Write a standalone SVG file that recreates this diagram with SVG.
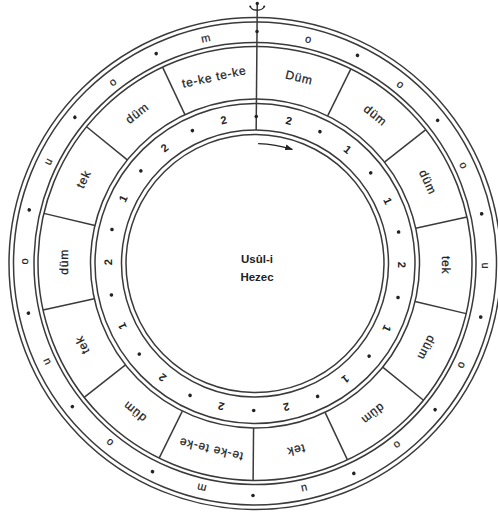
<svg xmlns="http://www.w3.org/2000/svg" width="498" height="525" viewBox="0 0 498 525">
<defs>
<style>
.ring{fill:none;stroke:#3a3a3a;stroke-width:1.5}
.div{stroke:#3a3a3a;stroke-width:1.5}
.cell{font-family:"Liberation Sans",Arial,sans-serif;font-size:12px;letter-spacing:0.8px;fill:#222;stroke:#222;stroke-width:0.25;text-anchor:middle;dominant-baseline:central}
.syl{font-family:"Liberation Sans",Arial,sans-serif;font-size:11px;fill:#222;stroke:#222;stroke-width:0.2;text-anchor:middle;dominant-baseline:central}
.num{font-family:"Liberation Sans",Arial,sans-serif;font-size:11px;font-weight:bold;fill:#222;text-anchor:middle;dominant-baseline:central}
.title{font-family:"Liberation Sans",Arial,sans-serif;font-size:11.5px;font-weight:bold;fill:#222;text-anchor:middle}
.dot{fill:#222}
</style>
<marker id="ah" markerWidth="8" markerHeight="6" refX="7" refY="3" orient="auto" markerUnits="userSpaceOnUse">
<path d="M0,0 L8,3 L0,6 Z" fill="#222"/>
</marker>
</defs>
<rect width="498" height="525" fill="#fff"/>
<g transform="translate(255 263.5) rotate(0.5)">
<g id="rings">
<circle class="ring" r="246"/>
<circle class="ring" r="241.5"/>
<circle class="ring" r="221"/>
<circle class="ring" r="217"/>
<circle class="ring" r="164.5"/>
<circle class="ring" r="160"/>
<circle class="ring" r="133.5"/>
<circle class="ring" r="129"/>
</g>
<g id="connectors">
<line class="div" x1="0" y1="-259" x2="0" y2="-133.5"/>
<g id="dividers">
<line class="div" x1="0" y1="-217" x2="0" y2="-164.5" transform="rotate(25.714)"/>
<line class="div" x1="0" y1="-217" x2="0" y2="-164.5" transform="rotate(51.429)"/>
<line class="div" x1="0" y1="-217" x2="0" y2="-164.5" transform="rotate(77.143)"/>
<line class="div" x1="0" y1="-217" x2="0" y2="-164.5" transform="rotate(102.857)"/>
<line class="div" x1="0" y1="-217" x2="0" y2="-164.5" transform="rotate(128.571)"/>
<line class="div" x1="0" y1="-217" x2="0" y2="-164.5" transform="rotate(154.286)"/>
<line class="div" x1="0" y1="-217" x2="0" y2="-164.5" transform="rotate(180)"/>
<line class="div" x1="0" y1="-217" x2="0" y2="-164.5" transform="rotate(205.714)"/>
<line class="div" x1="0" y1="-217" x2="0" y2="-164.5" transform="rotate(231.429)"/>
<line class="div" x1="0" y1="-217" x2="0" y2="-164.5" transform="rotate(257.143)"/>
<line class="div" x1="0" y1="-217" x2="0" y2="-164.5" transform="rotate(282.857)"/>
<line class="div" x1="0" y1="-217" x2="0" y2="-164.5" transform="rotate(308.571)"/>
<line class="div" x1="0" y1="-217" x2="0" y2="-164.5" transform="rotate(334.286)"/>
</g>
<path id="direction-arrow" d="M2.09,-119.98 A120,120 0 0 1 36.2,-114.4" fill="none" stroke="#222" stroke-width="1.3" marker-end="url(#ah)"/>
</g>
<g id="top-mark" fill="none" stroke="#222" stroke-width="1.2">
<circle cx="0" cy="-260" r="1.7" fill="#222" stroke="none"/>
<path d="M-7,-257 Q-5,-253 0,-253.5 Q5,-253 7,-257"/>
<circle cx="-7" cy="-257" r="1" fill="#222" stroke="none"/>
<circle cx="7" cy="-257" r="1" fill="#222" stroke="none"/>
</g>
<g id="outer-band">
<circle class="dot" cx="0" cy="-232" r="1.8" transform="rotate(0)"/>
<circle class="dot" cx="0" cy="-232" r="1.8" transform="rotate(25.714)"/>
<circle class="dot" cx="0" cy="-232" r="1.8" transform="rotate(51.429)"/>
<circle class="dot" cx="0" cy="-232" r="1.8" transform="rotate(77.143)"/>
<circle class="dot" cx="0" cy="-232" r="1.8" transform="rotate(102.857)"/>
<circle class="dot" cx="0" cy="-232" r="1.8" transform="rotate(128.571)"/>
<circle class="dot" cx="0" cy="-232" r="1.8" transform="rotate(154.286)"/>
<circle class="dot" cx="0" cy="-232" r="1.8" transform="rotate(180)"/>
<circle class="dot" cx="0" cy="-232" r="1.8" transform="rotate(205.714)"/>
<circle class="dot" cx="0" cy="-232" r="1.8" transform="rotate(231.429)"/>
<circle class="dot" cx="0" cy="-232" r="1.8" transform="rotate(257.143)"/>
<circle class="dot" cx="0" cy="-232" r="1.8" transform="rotate(282.857)"/>
<circle class="dot" cx="0" cy="-232" r="1.8" transform="rotate(308.571)"/>
<circle class="dot" cx="0" cy="-232" r="1.8" transform="rotate(334.286)"/>
<text class="syl" y="-231" transform="rotate(12.857)">o</text>
<text class="syl" y="-231" transform="rotate(38.571)">o</text>
<text class="syl" y="-231" transform="rotate(64.286)">o</text>
<text class="syl" y="-231" transform="rotate(90)">u</text>
<text class="syl" y="-231" transform="rotate(115.714)">o</text>
<text class="syl" y="-231" transform="rotate(141.429)">o</text>
<text class="syl" y="-231" transform="rotate(167.143)">u</text>
<text class="syl" y="-231" transform="rotate(192.857)">m</text>
<text class="syl" y="-231" transform="rotate(218.571)">o</text>
<text class="syl" y="-231" transform="rotate(244.286)">u</text>
<text class="syl" y="-231" transform="rotate(270)">o</text>
<text class="syl" y="-231" transform="rotate(295.714)">u</text>
<text class="syl" y="-231" transform="rotate(321.429)">o</text>
<text class="syl" y="-231" transform="rotate(347.143)">m</text>
</g>
<g id="cells">
<g id="cell-0"><text class="cell" y="-191" transform="rotate(12.857)">Düm</text></g>
<g id="cell-1"><text class="cell" y="-191" transform="rotate(38.571)">düm</text></g>
<g id="cell-2"><text class="cell" y="-191" transform="rotate(64.286)">düm</text></g>
<g id="cell-3"><text class="cell" y="-191" transform="rotate(90)">tek</text></g>
<g id="cell-4"><text class="cell" y="-191" transform="rotate(115.714)">düm</text></g>
<g id="cell-5"><text class="cell" y="-191" transform="rotate(141.429)">düm</text></g>
<g id="cell-6"><text class="cell" y="-191" transform="rotate(167.143)">tek</text></g>
<g id="cell-7"><text class="cell" y="-191" transform="rotate(192.857)">te-ke te-ke</text></g>
<g id="cell-8"><text class="cell" y="-191" transform="rotate(218.571)">düm</text></g>
<g id="cell-9"><text class="cell" y="-191" transform="rotate(244.286)">tek</text></g>
<g id="cell-10"><text class="cell" y="-191" transform="rotate(270)">düm</text></g>
<g id="cell-11"><text class="cell" y="-191" transform="rotate(295.714)">tek</text></g>
<g id="cell-12"><text class="cell" y="-191" transform="rotate(321.429)">düm</text></g>
<g id="cell-13"><text class="cell" y="-191" transform="rotate(347.143)">te-ke te-ke</text></g>
</g>
<g id="inner-band">
<circle class="dot" cx="0" cy="-147" r="1.8" transform="rotate(0)"/>
<circle class="dot" cx="0" cy="-147" r="1.8" transform="rotate(25.714)"/>
<circle class="dot" cx="0" cy="-147" r="1.8" transform="rotate(51.429)"/>
<circle class="dot" cx="0" cy="-147" r="1.8" transform="rotate(77.143)"/>
<circle class="dot" cx="0" cy="-147" r="1.8" transform="rotate(102.857)"/>
<circle class="dot" cx="0" cy="-147" r="1.8" transform="rotate(128.571)"/>
<circle class="dot" cx="0" cy="-147" r="1.8" transform="rotate(154.286)"/>
<circle class="dot" cx="0" cy="-147" r="1.8" transform="rotate(180)"/>
<circle class="dot" cx="0" cy="-147" r="1.8" transform="rotate(205.714)"/>
<circle class="dot" cx="0" cy="-147" r="1.8" transform="rotate(231.429)"/>
<circle class="dot" cx="0" cy="-147" r="1.8" transform="rotate(257.143)"/>
<circle class="dot" cx="0" cy="-147" r="1.8" transform="rotate(282.857)"/>
<circle class="dot" cx="0" cy="-147" r="1.8" transform="rotate(308.571)"/>
<circle class="dot" cx="0" cy="-147" r="1.8" transform="rotate(334.286)"/>
<text class="num" y="-147" transform="rotate(12.857)">2</text>
<text class="num" y="-147" transform="rotate(38.571)">1</text>
<text class="num" y="-147" transform="rotate(64.286)">1</text>
<text class="num" y="-147" transform="rotate(90)">2</text>
<text class="num" y="-147" transform="rotate(115.714)">1</text>
<text class="num" y="-147" transform="rotate(141.429)">1</text>
<text class="num" y="-147" transform="rotate(167.143)">2</text>
<text class="num" y="-147" transform="rotate(192.857)">2</text>
<text class="num" y="-147" transform="rotate(218.571)">2</text>
<text class="num" y="-147" transform="rotate(244.286)">1</text>
<text class="num" y="-147" transform="rotate(270)">2</text>
<text class="num" y="-147" transform="rotate(295.714)">1</text>
<text class="num" y="-147" transform="rotate(321.429)">2</text>
<text class="num" y="-147" transform="rotate(347.143)">2</text>
</g>
</g>
<g id="center-title">
<text class="title" x="257" y="263">Usûl-i</text>
<text class="title" x="257" y="280.5">Hezec</text>
</g>
</svg>
